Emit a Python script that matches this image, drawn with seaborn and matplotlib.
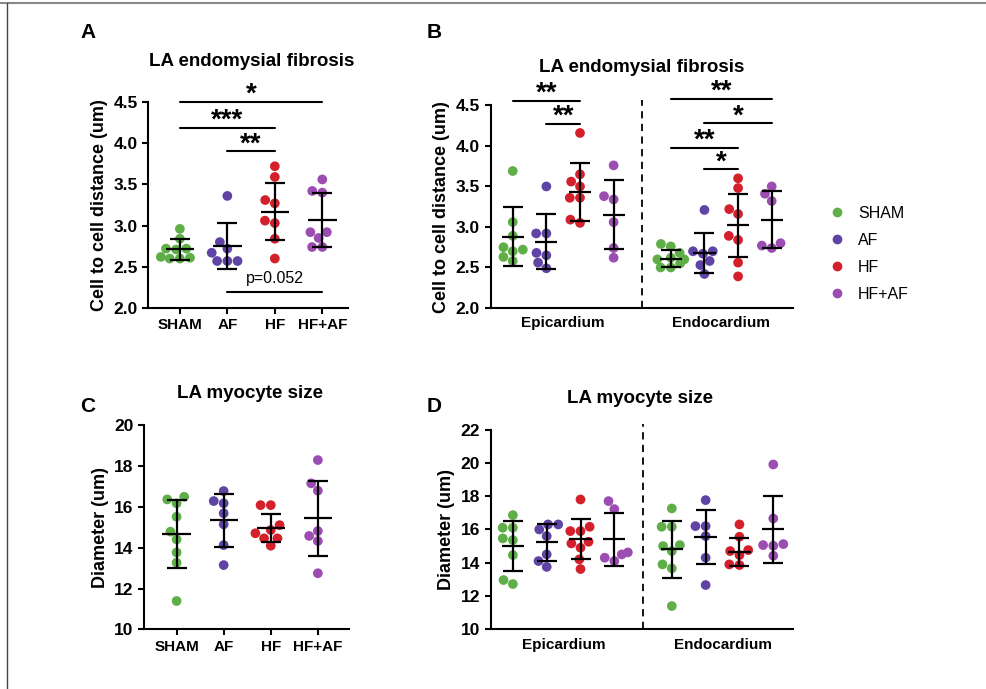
import numpy as np
import pandas as pd
import matplotlib
matplotlib.use("Agg")
import matplotlib.pyplot as plt
from matplotlib.lines import Line2D
import seaborn as sns

# ---------------------------------------------------------------
# DATA
# ---------------------------------------------------------------
groups = ["SHAM", "AF", "HF", "HF+AF"]
colors = ["#5fae47", "#5f44a5", "#d4202a", "#9b4db1"]
layers = ["Epicardium", "Endocardium"]

# A: LA endomysial fibrosis, cell to cell distance (um)
a_points = {
    "SHAM": [2.96, 2.84, 2.72, 2.71, 2.72, 2.62, 2.60, 2.60, 2.61],
    "AF": [3.36, 2.80, 2.72, 2.67, 2.57, 2.57, 2.57],
    "HF": [3.72, 3.59, 3.27, 3.31, 3.03, 3.06, 2.84, 2.60],
    "HF+AF": [3.56, 3.40, 3.42, 2.92, 2.92, 2.85, 2.74, 2.74],
}
a_mean = [2.71, 2.75, 3.17, 3.07]
a_sd = [0.125, 0.28, 0.35, 0.33]

# B: same measure split by layer
b_epi_points = {
    "SHAM": [3.69, 3.06, 2.89, 2.72, 2.75, 2.70, 2.58, 2.63],
    "AF": [3.50, 2.92, 2.92, 2.68, 2.65, 2.56, 2.49],
    "HF": [4.16, 3.65, 3.56, 3.50, 3.36, 3.36, 3.05, 3.09],
    "HF+AF": [3.76, 3.38, 3.34, 3.06, 2.74, 2.62],
}
b_endo_points = {
    "SHAM": [2.79, 2.76, 2.68, 2.62, 2.60, 2.60, 2.55, 2.50, 2.50],
    "AF": [3.21, 2.70, 2.70, 2.67, 2.58, 2.53, 2.42],
    "HF": [3.60, 3.48, 3.22, 3.16, 2.89, 2.84, 2.56, 2.39],
    "HF+AF": [3.50, 3.41, 3.32, 2.80, 2.77, 2.74],
}
b_mean = [2.88, 2.82, 3.43, 3.15, 2.61, 2.68, 3.02, 3.09]
b_sd = [0.365, 0.34, 0.355, 0.425, 0.105, 0.25, 0.39, 0.355]

# C: LA myocyte size, diameter (um)
c_points = {
    "SHAM": [16.50, 16.37, 16.18, 15.52, 14.79, 14.41, 13.77, 13.27, 11.39],
    "AF": [16.78, 16.18, 16.29, 15.69, 15.15, 14.13, 13.15],
    "HF": [16.09, 16.09, 15.11, 14.71, 14.87, 14.46, 14.46, 14.10],
    "HF+AF": [18.30, 17.16, 16.80, 14.82, 14.33, 14.58, 12.75],
}
c_mean = [14.67, 15.35, 14.95, 15.44]
c_sd = [1.675, 1.29, 0.69, 1.83]

# D: myocyte size split by layer
d_epi_points = {
    "SHAM": [16.86, 16.10, 16.10, 15.46, 15.36, 14.46, 12.72, 12.96],
    "AF": [16.30, 16.30, 16.00, 15.60, 14.50, 14.10, 13.75],
    "HF": [17.80, 16.16, 15.90, 15.90, 15.26, 15.16, 14.90, 14.20, 13.62],
    "HF+AF": [17.70, 17.22, 14.62, 14.50, 14.10, 14.30],
}
d_endo_points = {
    "SHAM": [17.26, 16.16, 16.16, 15.06, 15.00, 14.70, 13.90, 13.66, 11.40],
    "AF": [17.76, 16.20, 16.20, 15.60, 14.30, 12.66],
    "HF": [16.30, 15.56, 14.76, 14.70, 14.46, 13.86, 13.90],
    "HF+AF": [19.90, 16.66, 15.12, 15.02, 15.06, 14.42],
}
d_mean = [15.02, 15.22, 15.42, 15.40, 14.80, 15.53, 14.65, 16.00]
d_sd = [1.51, 1.11, 1.20, 1.60, 1.73, 1.63, 0.85, 2.03]

# x positions
pos_single = [0, 1, 2, 3]
pos_split = [0, 1, 2, 3, 4.7, 5.7, 6.7, 7.7]
split_line = 3.85

# ---------------------------------------------------------------
# STYLE
# ---------------------------------------------------------------
sns.set_theme(style="ticks")
plt.rcParams["font.family"] = ["Liberation Sans", "DejaVu Sans"]
plt.rcParams["font.weight"] = "bold"
plt.rcParams["text.color"] = "black"
plt.rcParams["axes.labelcolor"] = "black"
plt.rcParams["axes.linewidth"] = 1.5
plt.rcParams["xtick.major.width"] = 1.5
plt.rcParams["ytick.major.width"] = 1.5
plt.rcParams["xtick.major.size"] = 4
plt.rcParams["ytick.major.size"] = 4
plt.rcParams["xtick.color"] = "black"
plt.rcParams["ytick.color"] = "black"
plt.rcParams["axes.edgecolor"] = "black"

YT = 12.5   # y tick label size
XT = 11     # x tick label size
YL = 13     # y axis label size


def to_frame(point_sets, positions):
    rows = []
    i = 0
    for pts in point_sets:
        for g in groups:
            for v in pts[g]:
                rows.append({"pos": positions[i], "val": v, "grp": g})
            i += 1
    return pd.DataFrame(rows)


def draw(ax, df, positions, means, sds, half):
    sns.swarmplot(data=df, x="pos", y="val", hue="grp", hue_order=groups,
                  palette=colors, native_scale=True, orient="x", size=7,
                  linewidth=0, legend=False, ax=ax, zorder=2)
    ax.errorbar(positions, means, yerr=sds, fmt="none", ecolor="black",
                elinewidth=1.6, capsize=7, capthick=1.6, zorder=3)
    ax.hlines(means, np.array(positions) - half, np.array(positions) + half,
              color="black", lw=1.6, zorder=3)
    sns.despine(ax=ax)
    ax.set_xlabel("")


def sig(ax, x1, x2, y, text, bold=True, size=20, off=0):
    ax.plot([x1, x2], [y, y], color="black", lw=1.5, clip_on=False)
    ax.annotate(text, xy=((x1 + x2) / 2, y), xytext=(0, off),
                textcoords="offset points", ha="center", va="baseline",
                fontsize=size, fontweight="bold" if bold else "normal",
                annotation_clip=False)


fig = plt.figure(figsize=(9.87, 6.89), dpi=100)

# ---- A ----
axA = fig.add_axes([0.150, 0.553, 0.203, 0.299])
draw(axA, to_frame([a_points], pos_single), pos_single, a_mean, a_sd, 0.30)
axA.set_xlim(-0.67, 3.55)
axA.set_ylim(2.0, 4.5)
axA.set_yticks([2.0, 2.5, 3.0, 3.5, 4.0, 4.5])
axA.set_yticklabels(["2.0", "2.5", "3.0", "3.5", "4.0", "4.5"], fontsize=YT, fontweight="bold")
axA.set_xticks(pos_single)
axA.set_xticklabels(groups, fontsize=XT, fontweight="bold")
axA.set_ylabel("Cell to cell distance (um)", fontsize=YL, fontweight="bold")
sig(axA, 0, 3, 4.5, "*")
sig(axA, 0, 2, 4.19, "***")
sig(axA, 1, 2, 3.90, "**")
sig(axA, 1, 3, 2.20, "p=0.052", bold=False, size=11.5, off=6)

# ---- B ----
axB = fig.add_axes([0.497, 0.553, 0.306, 0.294])
draw(axB, to_frame([b_epi_points, b_endo_points], pos_split), pos_split,
     b_mean, b_sd, 0.33)
axB.set_xlim(-0.66, 8.32)
axB.set_ylim(2.0, 4.5)
axB.set_yticks([2.0, 2.5, 3.0, 3.5, 4.0, 4.5])
axB.set_yticklabels(["2.0", "2.5", "3.0", "3.5", "4.0", "4.5"], fontsize=YT, fontweight="bold")
axB.set_xticks([1.5, 6.2])
axB.set_xticklabels(layers, fontsize=XT, fontweight="bold")
axB.tick_params(axis="x", length=0, pad=6)
axB.set_ylabel("Cell to cell distance (um)", fontsize=YL, fontweight="bold")
axB.plot([split_line, split_line], [2.0, 4.57], color="black", lw=1.3,
         ls=(0, (4, 3)), clip_on=False)
sig(axB, 0, 2, 4.56, "**")
sig(axB, 1, 2, 4.27, "**")
sig(axB, 4.7, 7.7, 4.58, "**")
sig(axB, 5.7, 7.7, 4.28, "*")
sig(axB, 4.7, 6.7, 3.98, "**")
sig(axB, 5.7, 6.7, 3.71, "*")

# ---- C ----
axC = fig.add_axes([0.146, 0.0866, 0.208, 0.296])
draw(axC, to_frame([c_points], pos_single), pos_single, c_mean, c_sd, 0.30)
axC.set_xlim(-0.69, 3.67)
axC.set_ylim(10, 20)
axC.set_yticks([10, 12, 14, 16, 18, 20])
axC.set_yticklabels(["10", "12", "14", "16", "18", "20"], fontsize=YT, fontweight="bold")
axC.set_xticks(pos_single)
axC.set_xticklabels(groups, fontsize=XT, fontweight="bold")
axC.set_ylabel("Diameter (um)", fontsize=YL, fontweight="bold")

# ---- D ----
axD = fig.add_axes([0.497, 0.0866, 0.306, 0.290])
draw(axD, to_frame([d_epi_points, d_endo_points], pos_split), pos_split,
     d_mean, d_sd, 0.33)
axD.set_xlim(-0.66, 8.27)
axD.set_ylim(10, 22)
axD.set_yticks([10, 12, 14, 16, 18, 20, 22])
axD.set_yticklabels(["10", "12", "14", "16", "18", "20", "22"], fontsize=YT, fontweight="bold")
axD.set_xticks([1.5, 6.2])
axD.set_xticklabels(layers, fontsize=XT, fontweight="bold")
axD.tick_params(axis="x", length=0, pad=6)
axD.set_ylabel("Diameter (um)", fontsize=YL, fontweight="bold")
axD.plot([split_line, split_line], [10, 22.35], color="black", lw=1.3,
         ls=(0, (4, 3)), clip_on=False)

# ---- titles and panel letters ----
fig.text(252 / 987, 1 - 62 / 689, "LA endomysial fibrosis", ha="center", va="center",
         fontsize=13.5, fontweight="bold")
fig.text(642 / 987, 1 - 67 / 689, "LA endomysial fibrosis", ha="center", va="center",
         fontsize=13.5, fontweight="bold")
fig.text(250 / 987, 1 - 393 / 689, "LA myocyte size", ha="center", va="center",
         fontsize=13.5, fontweight="bold")
fig.text(640 / 987, 1 - 398 / 689, "LA myocyte size", ha="center", va="center",
         fontsize=13.5, fontweight="bold")
for letter, x, y in [("A", 80, 32), ("B", 427, 32), ("C", 80, 407), ("D", 427, 407)]:
    fig.text(x / 987, 1 - y / 689, letter, ha="left", va="center",
             fontsize=15, fontweight="bold")

# ---- legend ----
handles = [Line2D([0], [0], marker="o", ls="none", color=c, markersize=6)
           for c in colors]
leg = fig.legend(handles, groups, loc="center left",
                 bbox_to_anchor=(815 / 987, 1 - 254 / 689), frameon=False,
                 prop={"size": 11.5, "weight": "normal"}, labelspacing=0.75,
                 handletextpad=0.8, handlelength=1.0)

# thin frame lines at top and left, like the original
fig.add_artist(Line2D([0, 1], [1 - 2.5 / 689] * 2, color="#888888", lw=1.5))
fig.add_artist(Line2D([6.5 / 987] * 2, [0, 1 - 2.5 / 689], color="#444444", lw=1.0))

fig.savefig("out.png", dpi=100)
